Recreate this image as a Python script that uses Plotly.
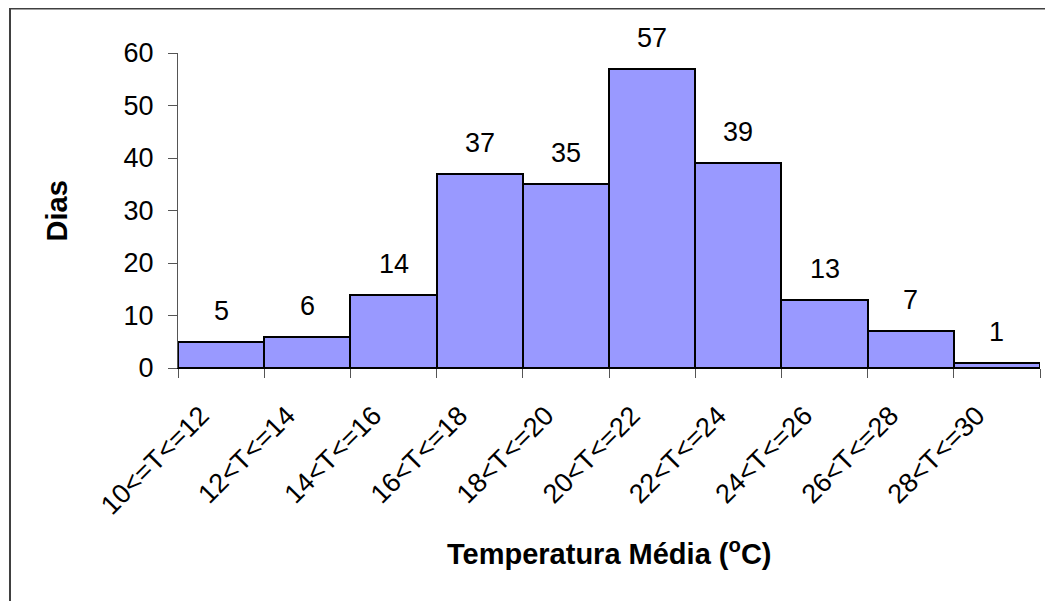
import plotly.graph_objects as go

classes = ["10<=T<=12", "12<T<=14", "14<T<=16", "16<T<=18", "18<T<=20",
           "20<T<=22", "22<T<=24", "24<T<=26", "26<T<=28", "28<T<=30"]
dias = [5, 6, 14, 37, 35, 57, 39, 13, 7, 1]

FONT = "Arial, Liberation Sans, sans-serif"

fig = go.Figure()
fig.add_trace(go.Bar(x=classes, y=dias,
                     marker=dict(color="#9999FF", line=dict(color="black", width=2)),
                     hoverinfo="x+y"))

# valores por cima das barras
for c, v in zip(classes, dias):
    fig.add_annotation(x=c, y=v, text=str(v), showarrow=False, yshift=31,
                       yanchor="middle", font=dict(family=FONT, size=27, color="black"))

fig.add_annotation(xref="paper", yref="paper", x=0.5, y=-0.584,
                   text="<b>Temperatura Média (<sup>o</sup>C)</b>",
                   showarrow=False, yanchor="middle", font=dict(family=FONT, size=29, color="black"))
fig.add_annotation(xref="paper", yref="paper", x=-0.1404, y=0.5, text="<b>Dias</b>", textangle=-90,
                   showarrow=False, xanchor="center", yanchor="middle",
                   font=dict(family=FONT, size=29, color="black"))

# moldura do grafico
fig.add_shape(type="rect", xref="paper", yref="paper", x0=-0.1949, x1=1.1, y0=-0.8, y1=1.141,
              line=dict(color="#404040", width=2), layer="below")

# a pagina tem 8px de margem no body, por isso a figura e 8px mais pequena
fig.update_layout(
    width=1045, height=593,
    margin=dict(l=170, r=13, t=45, b=233),
    paper_bgcolor="white", plot_bgcolor="white",
    bargap=0, showlegend=False,
    font=dict(family=FONT, size=27, color="black"),
)
fig.update_xaxes(tickangle=-45, tickson="boundaries", ticks="outside", ticklen=9,
                 tickcolor="#555", showline=True, linecolor="black", linewidth=1,
                 showgrid=False, tickfont=dict(size=27),
                 ticklabelshift=-20, ticklabelstandoff=20)
fig.update_yaxes(range=[0, 60], dtick=10, ticks="outside", ticklen=9, tickcolor="#555",
                 showline=True, linecolor="#555", linewidth=1, showgrid=False, zeroline=False,
                 tickfont=dict(size=27), ticklabelstandoff=9)

fig.write_html("out.html")
